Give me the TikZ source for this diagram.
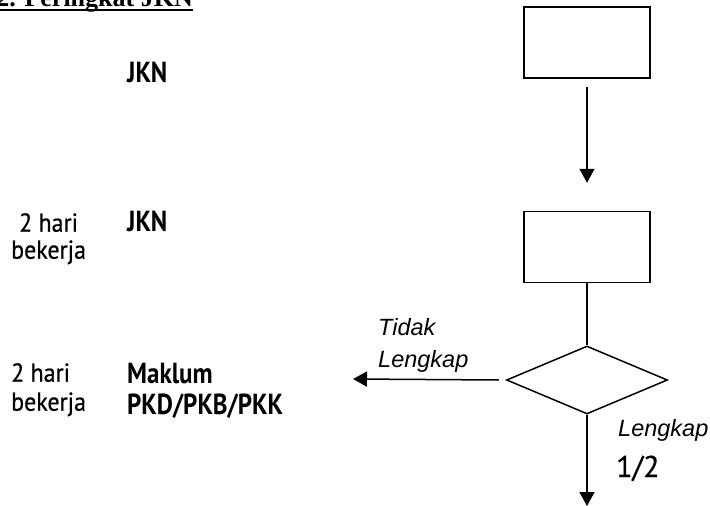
\documentclass[tikz,border=0pt]{standalone}
\usepackage{fontspec}
\setmainfont{PT Sans}
\newfontfamily\arialf{Liberation Sans}
\newfontfamily\timesf{Liberation Serif}
\newfontfamily\narrowb[FakeStretch=0.86]{PT Sans Bold}
\newfontfamily\narrowr[FakeStretch=0.92,FakeBold=0.6]{PT Sans}
\newfontfamily\halfr[FakeBold=0.6]{PT Sans}
\usetikzlibrary{arrows.meta,shapes.geometric}
\begin{document}
\begin{tikzpicture}[x=1pt,y=-1pt,
  lw/.style={line width=1.5pt},
  boxnode/.style={draw,lw,rectangle,minimum width=126pt,minimum height=71pt,inner sep=0pt},
  decnode/.style={draw,lw,diamond,minimum width=161pt,minimum height=68pt,inner sep=0pt},
  conn/.style={lw},
  arr/.style={lw,-{Triangle[width=15pt,length=14pt]}},
  plain/.style={inner sep=0pt,font=\fontsize{26}{27}\narrowr},
  boldtxt/.style={inner sep=0pt,font=\fontsize{29}{31}\narrowb},
  italtxt/.style={inner sep=0pt,font=\fontsize{23.5}{32}\selectfont\arialf\itshape}]
\useasboundingbox (0,0) rectangle (710,506);
% title (cut at top)
\node[inner sep=0pt,anchor=base east,font=\fontsize{26}{30}\selectfont\timesf\bfseries] (title) at (193,6) {2. Peringkat JKN};
\draw[line width=2pt] ([yshift=-4pt]title.base west) -- ([yshift=-4pt]title.base east);
% boxes
\node[boxnode] (box1) at (587,42.5) {};
\node[boxnode] (box2) at (587,247) {};
\node[decnode] (dec) at (587,380) {};
\coordinate (lend) at (353,379);
\coordinate (dend) at (587,506);
\draw[arr] ([yshift=-8pt]box1.south) -- ([yshift=28pt]box2.north);
\draw[conn] (box2.south) -- (dec.north);
\draw[arr] ([xshift=-7pt]dec.west) -- (lend);
\draw[arr] (dec.south) -- (dend);
% labels
\node[italtxt,anchor=north west,align=left] (tl) at (378,318) {Tidak\\Lengkap};
\node[italtxt,anchor=base west] (lk) at (618,436) {Lengkap};
\node[inner sep=0pt,font=\fontsize{30}{30}\halfr,anchor=base west] (half) at (616,477) {1/2};
% left texts
\node[boldtxt,anchor=base west] (jkn1) at (127,82) {JKN};
\node[boldtxt,anchor=base west] (jkn2) at (127,231) {JKN};
\node[plain,anchor=north west,align=center] (d1) at (11,213) {2 hari\\bekerja};
\node[plain,anchor=north west,align=left,font=\fontsize{26}{29}\narrowr] (d2) at (11,363) {2 hari\\bekerja};
\node[boldtxt,anchor=north west,align=left] (mk) at (127,363) {Maklum\\PKD/PKB/PKK};
\end{tikzpicture}
\end{document}
